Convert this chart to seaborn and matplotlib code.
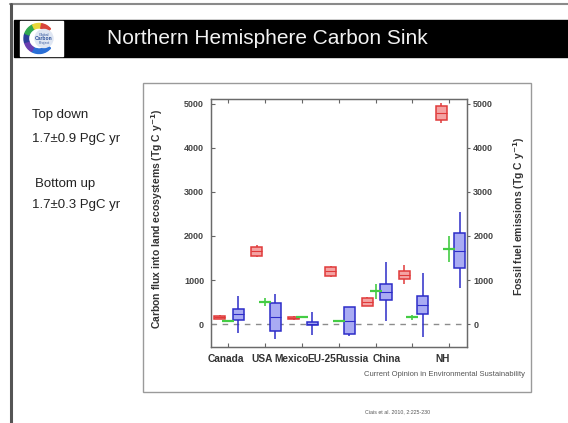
import numpy as np
import pandas as pd
import matplotlib
matplotlib.use("Agg")
import matplotlib.pyplot as plt
from matplotlib.patches import Rectangle, Wedge, Circle
import seaborn as sns

categories = ["Canada", "USA", "Mexico", "EU-25", "Russia", "China", "NH"]

# Top-down (atmospheric inversion) land sink, Tg C / yr: min, q1, median, q3, max
sink_low = [-200, -340, -250, -260, 75, -290, 810]
sink_q1 = [100, -150, -20, -230, 540, 230, 1270]
sink_med = [220, 170, 10, 70, 730, 430, 1670]
sink_q3 = [340, 490, 40, 380, 920, 640, 2070]
sink_high = [630, 680, 280, 390, 1415, 1170, 2550]

# Fossil fuel emissions, Tg C / yr: min, q1, median, q3, max
fossil_low = [110, 1520, 100, 1060, 400, 920, 4570]
fossil_q1 = [120, 1550, 110, 1100, 420, 1020, 4640]
fossil_med = [155, 1650, 140, 1200, 500, 1110, 4790]
fossil_q3 = [190, 1750, 165, 1300, 590, 1210, 4940]
fossil_high = [200, 1790, 175, 1330, 610, 1340, 5010]

# Bottom-up (inventory) land sink, Tg C / yr, with uncertainty
inventory = [60, 500, 150, 60, 750, 150, 1700]
inventory_err = [0, 100, 0, 0, 170, 50, 300]

yticks = [0, 1000, 2000, 3000, 4000, 5000]

sns.set_style("white")
plt.rcParams["font.family"] = ["Liberation Sans", "DejaVu Sans"]

W, H = 568, 423
fig = plt.figure(figsize=(W / 100, H / 100), dpi=100)

# slide canvas in pixel coordinates
ov = fig.add_axes([0, 0, 1, 1], zorder=0)
ov.set_xlim(0, W)
ov.set_ylim(H, 0)
ov.axis("off")

ov.plot([10, W], [4, 4], color="#8a8a8a", lw=1.5)
ov.plot([11, 11], [4, H], color="#555555", lw=2.2)
ov.add_patch(Rectangle((14, 20), W - 14, 37, color="black"))
ov.add_patch(Rectangle((20, 21), 43, 35, color="white"))
ring = [(40, 120, "#2a6fd6"), (120, 165, "#6a3fb0"), (165, 200, "#2b3f9a"),
        (200, 245, "#2fa84f"), (245, 280, "#e8d83a"), (280, 320, "#d8443a")]
for a0, a1, c in ring:
    ov.add_patch(Wedge((39, 38.5), 15, a0, a1, width=4.5, color=c))
ov.add_patch(Circle((44, 38.5), 9, color="#dfe6f2"))
ov.text(44, 35, "Global", fontsize=2.6, color="#2a4f9a", ha="center", va="center")
ov.text(44, 39, "Carbon", fontsize=3.6, color="#2a4f9a", ha="center", va="center",
        fontweight="bold")
ov.text(44, 43, "Project", fontsize=2.6, color="#2a4f9a", ha="center", va="center")
ov.text(107, 39, "Northern Hemisphere Carbon Sink", color="#f2f2f2", fontsize=15,
        ha="left", va="center")

ov.text(32, 115, "Top down", fontsize=9.5, color="#222222", va="center")
ov.text(32, 139, "1.7\u00b10.9 PgC yr", fontsize=9.5, color="#222222", va="center")
ov.text(35, 184, "Bottom up", fontsize=9.5, color="#222222", va="center")
ov.text(32, 205, "1.7\u00b10.3 PgC yr", fontsize=9.5, color="#222222", va="center")

ov.add_patch(Rectangle((143, 83), 388, 309, fill=False, edgecolor="#9a9a9a", lw=1))
ov.text(157, 219, "Carbon flux into land ecosystems (Tg C y$^{\\mathbf{-1}}$)",
        rotation=90, fontsize=7.5, fontweight="bold", color="#333333",
        ha="center", va="center")
ov.text(519, 216, "Fossil fuel emissions (Tg C y$^{\\mathbf{-1}}$)",
        rotation=90, fontsize=7.5, fontweight="bold", color="#333333",
        ha="center", va="center")
ov.text(525, 375, "Current Opinion in Environmental Sustainability", fontsize=5.5,
        color="#555555", ha="right", va="center")
ov.text(398, 412, "Ciais et al. 2010, 2:225-230", fontsize=3.8, color="#555555",
        ha="center", va="center")

# chart
ax = fig.add_axes([211 / W, 1 - 347 / H, (467 - 211) / W, (347 - 99) / H], zorder=1)
pos = np.arange(1, len(categories) + 1)


def long_table(offset, cols):
    rows = []
    for i, vals in enumerate(zip(*cols)):
        for v in vals:
            rows.append({"x": pos[i] + offset, "value": v})
    return pd.DataFrame(rows)


df_fossil = long_table(-0.22, [fossil_low, fossil_q1, fossil_med, fossil_q3, fossil_high])
df_sink = long_table(0.285, [sink_low, sink_q1, sink_med, sink_q3, sink_high])

ax.axhline(0, color="#8c8c8c", lw=1, dashes=(4, 4), zorder=1)

sns.boxplot(data=df_fossil, x="x", y="value", orient="x", native_scale=True,
            width=0.3, whis=np.inf, color="#f4a3a3", linecolor="#e03a3a",
            linewidth=1.1, saturation=1, showcaps=False, ax=ax,
            medianprops={"linewidth": 0.8})
ax.errorbar(pos, inventory, yerr=inventory_err, fmt="_", ms=9, mew=1.6,
            color="#44cc44", ecolor="#44cc44", elinewidth=1.2, capsize=0, zorder=4)
sns.boxplot(data=df_sink, x="x", y="value", orient="x", native_scale=True,
            width=0.3, whis=np.inf, color="#a9abf3", linecolor="#2c2cc8",
            linewidth=1.1, saturation=1, showcaps=False, ax=ax,
            medianprops={"linewidth": 0.8})

ax.set_xlim(0.54, 7.48)
ax.set_ylim(-520, 5110)
ax.set_xlabel("")
ax.set_ylabel("")

label_pos = [0.95, 1.92, 2.71, 3.55, 4.36, 5.31, 6.83]
ax.set_xticks(pos)
ax.set_xticklabels([])
ax.set_xticks(label_pos, categories, minor=True)
ax.tick_params(axis="x", which="major", direction="in", length=3, top=True,
               bottom=True, color="#666666", width=0.8)
ax.tick_params(axis="x", which="minor", length=0, pad=5, labelsize=7.3,
               labelcolor="#333333")
for t in ax.get_xticklabels(minor=True):
    t.set_fontweight("bold")

ax.set_yticks(yticks)
ax.set_yticklabels([str(v) for v in yticks], fontweight="bold")
ax.tick_params(axis="y", direction="in", length=3, pad=5, labelsize=6.5,
               labelcolor="#444444", color="#666666", width=0.8, left=True)

ax2 = ax.twinx()
ax2.set_ylim(ax.get_ylim())
ax2.set_yticks(yticks)
ax2.set_yticklabels([str(v) for v in yticks], fontweight="bold")
ax2.tick_params(axis="y", direction="out", length=2, pad=2.5, labelsize=6.5,
                labelcolor="#444444", color="#666666", width=0.8)

for a in (ax, ax2):
    for s in a.spines.values():
        s.set_color("#6a6a6a")
        s.set_linewidth(0.9)

fig.savefig("out.png", dpi=100)
